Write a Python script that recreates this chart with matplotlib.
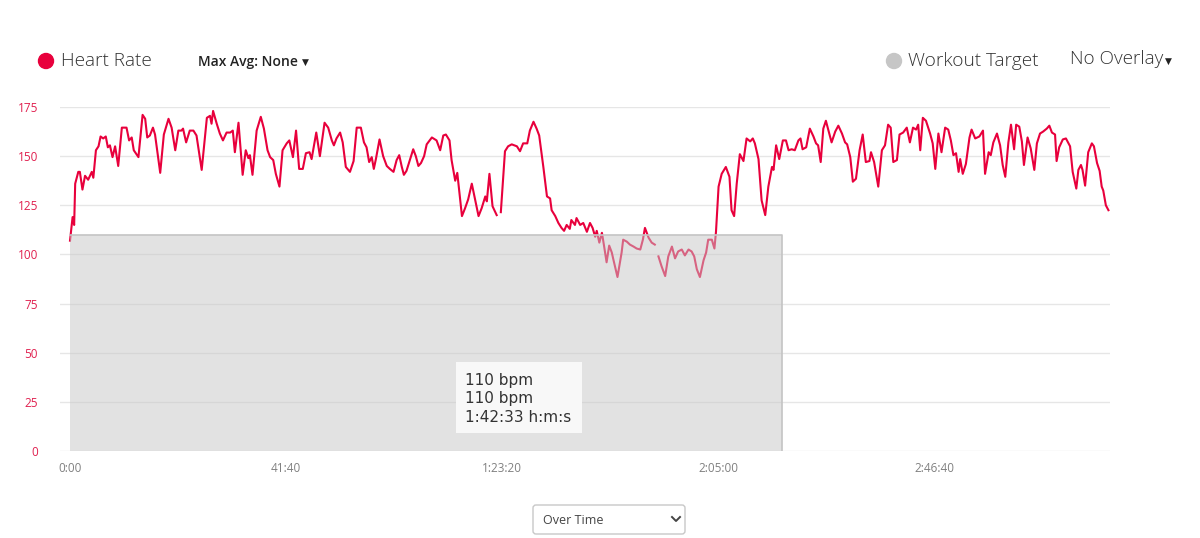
import numpy as np
import matplotlib
matplotlib.use("Agg")
import matplotlib.pyplot as plt
from matplotlib.patches import Rectangle, FancyBboxPatch, Circle
from matplotlib.lines import Line2D

plt.rcParams['font.family'] = ['Open Sans', 'DejaVu Sans']

# heart rate trace, minutes since start / bpm (nan = gap in recording)
minutes = [
    0.0, 0.3, 0.5, 0.8, 1.0, 1.6, 1.9, 2.4, 2.9, 3.5, 4.2, 4.5, 5.0, 5.5, 5.9, 6.4, 6.9, 7.3, 7.7, 8.2,
    8.7, 9.3, 10.0, 10.9, 11.4, 11.9, 12.3, 13.2, 14.0, 14.5, 14.9, 15.4, 16.0, 16.4, 17.4, 18.1, 19.0, 19.6, 20.3, 20.9,
    21.5, 21.8, 22.4, 23.1, 23.8, 24.4, 25.4, 26.4, 27.0, 27.3, 27.6, 28.3, 28.9, 29.5, 30.2, 30.9, 31.4, 31.8, 32.5, 33.3,
    33.9, 34.4, 34.7, 35.2, 36.0, 36.8, 37.4, 38.1, 38.6, 39.2, 39.7, 40.4, 41.0, 41.8, 42.3, 43.0, 43.6, 44.2, 44.9, 45.5,
    46.2, 46.6, 47.5, 48.2, 49.1, 49.8, 50.5, 50.9, 51.4, 52.1, 52.6, 53.2, 54.0, 54.7, 55.3, 56.1, 56.7, 57.2, 57.7, 58.2,
    58.6, 59.0, 59.7, 60.4, 61.1, 61.7, 62.4, 63.0, 63.5, 64.0, 64.4, 64.9, 65.6, 66.2, 66.7, 67.2, 67.7, 68.3, 68.8, 69.8,
    70.7, 71.4, 72.0, 72.5, 73.2, 73.6, 74.3, 74.7, 75.6, 76.2, 76.8, 77.5, 78.1, 78.8, 79.4, 80.1, 80.4, 80.9, 81.5, 82.3,
    82.7, 83.1, 83.9, 84.5, 85.2, 86.2, 86.8, 87.4, 88.2, 88.7, 89.4, 90.0, 90.5, 91.3, 92.0, 92.6, 92.9, 93.6, 94.2, 94.8,
    95.3, 95.8, 96.4, 96.7, 97.4, 97.7, 98.4, 99.0, 99.7, 100.3, 100.8, 101.3, 101.6, 102.1, 102.6, 103.0, 103.5, 104.0, 104.5, 104.8,
    105.6, 106.4, 106.7, 107.4, 108.0, 108.7, 109.3, 110.0, 110.5, 110.9, 111.6, 112.2, 112.8, 113.1, 113.5, 114.1, 114.8, 115.4, 116.1, 116.7,
    117.3, 118.0, 118.6, 119.3, 119.9, 120.4, 120.9, 121.5, 122.2, 122.7, 123.1, 123.8, 124.3, 124.6, 125.1, 125.7, 126.5, 127.2, 127.6, 128.1,
    128.6, 129.2, 129.9, 130.5, 131.2, 131.7, 132.1, 132.8, 133.4, 134.1, 134.7, 135.4, 135.7, 136.2, 136.8, 137.5, 138.1, 138.6, 139.2, 139.8,
    140.5, 140.9, 141.3, 142.0, 142.7, 143.4, 143.9, 144.3, 144.8, 145.3, 145.8, 146.3, 146.9, 147.6, 148.2, 148.9, 149.5, 149.9, 150.5, 151.0,
    151.6, 152.3, 152.9, 153.5, 154.2, 154.5, 155.1, 155.9, 156.6, 157.2, 157.8, 158.3, 158.8, 159.5, 160.0, 160.7, 161.4, 162.0, 162.6, 163.2,
    163.6, 164.0, 164.5, 165.1, 165.9, 166.4, 166.9, 167.5, 168.1, 168.8, 169.4, 169.9, 170.4, 170.9, 171.4, 171.7, 172.2, 172.8, 173.5, 173.9,
    174.6, 175.4, 176.1, 176.5, 177.2, 177.6, 178.1, 178.8, 179.4, 179.9, 180.4, 181.0, 181.5, 182.1, 182.5, 183.1, 183.6, 184.0, 184.7, 185.3,
    186.0, 186.5, 187.1, 187.7, 188.4, 188.9, 189.4, 190.0, 190.3, 190.8, 191.5, 192.1, 192.9, 193.4, 194.1, 194.5, 195.0, 195.3, 195.8, 196.4,
    197.1, 197.5, 198.1, 198.6, 199.0, 199.3, 199.8, 200.3,
]
bpm = [
    107, 114, 119, 115, 136, 142, 142, 133, 140, 138, 142, 139, 153, 155, 160, 159, 160, 154.5, 155.5, 149.5,
    155, 145, 164.5, 164.5, 158, 159.5, 153, 149.5, 171, 169, 159.5, 160.5, 164.5, 161, 141.5, 161, 169, 164.5, 153, 163,
    163, 164, 157, 163, 163, 160.5, 143, 169.5, 170.5, 166.5, 173, 166.5, 161.5, 158, 162, 162, 163, 152, 167, 140.5,
    153, 149, 150.5, 140.5, 163, 170, 164, 153, 149.5, 148, 141, 134.5, 153, 156.5, 158, 149.5, 163, 143.5, 143.5, 151.5,
    152, 148.5, 162, 150, 167, 164.5, 158, 155.5, 159, 162, 157, 144.5, 142, 147.5, 164.5, 164.5, 157, 154.5, 147, 149.5,
    143.5, 148.5, 158.5, 150, 145, 143.5, 142, 148, 150.5, 144.5, 140.5, 142.5, 148.5, 153.5, 150, 145, 146.5, 150, 156, 159.5,
    158, 153, 160.5, 161, 158, 148, 137.5, 141.5, 119.5, 123.5, 128, 136, 128.5, 119.5, 123.5, 129.5, 127, 141, 124.5, 120,
    np.nan, 121.5, 152.5, 155, 156, 155, 152.5, 156.5, 156.5, 163, 167.5, 164, 160.5, 144.5, 129.5, 128.5, 122.5, 119.5, 116, 113.5,
    112, 115, 113, 117.5, 115, 118.5, 115, 116, 111.5, 116, 113.5, 109, 112, 106, 111, 104.5, 96, 104.5, 101, 97.5,
    88.5, 101, 107.5, 106.5, 105, 104, 103, 102.5, 107.5, 113.5, 108.5, 106, 105, np.nan, 99, 94, 89, 99, 104, 98,
    101.5, 102.5, 99.5, 102.5, 101.5, 99, 92.5, 88.5, 97, 101, 107.5, 107.5, 103, 111.5, 134.5, 141, 144.5, 139.5, 122.5, 119.5,
    136, 151, 147.5, 159, 157.5, 159, 156.5, 148.5, 127.5, 120, 134.5, 144.5, 143, 155.5, 148.5, 158, 158, 153, 153.5, 153,
    158, 159, 153.5, 154.5, 164, 160, 156.5, 155.5, 147, 164, 168, 163, 157, 162.5, 165.5, 161.5, 157, 156, 149.5, 137,
    138.5, 153, 161, 147, 147.5, 152, 147, 134.5, 153, 155.5, 166, 164.5, 147, 148, 161, 162, 164.5, 157, 164.5, 163.5,
    166, 153, 169.5, 168, 161.5, 156.5, 143.5, 161.5, 152, 164.5, 163.5, 158, 150.5, 151.5, 142, 148.5, 141, 146, 159.5, 163.5,
    159, 160, 163, 141, 152, 150.5, 157, 161.5, 155.5, 145.5, 139.5, 157, 166, 153.5, 166, 165, 157.5, 145.5, 159.5, 154,
    143, 156.5, 161.5, 162.5, 164, 165.5, 162, 161, 147.5, 154.5, 158.5, 159, 155, 142, 133.5, 143, 145.5, 143, 135, 152,
    156.5, 155, 146.5, 142.5, 134.5, 132.5, 125, 122.5,
]

target_bpm = 110
target_end_min = 137.3
xtick_min = [0, 41.667, 83.333, 125, 166.667]
xtick_labels = ['0:00', '41:40', '1:23:20', '2:05:00', '2:46:40']
ytick_vals = [0, 25, 50, 75, 100, 125, 150, 175]
tooltip_lines = ['110 bpm', '110 bpm', '1:42:33 h:m:s']

RED = '#e8003c'

fig = plt.figure(figsize=(12, 5.38), dpi=100)
ax = fig.add_axes([60 / 1200, (538 - 451) / 538, (1110 - 60) / 1200, (451 - 107) / 538])

ax.plot(minutes, bpm, color=RED, lw=1.5, zorder=2, solid_joinstyle='round')

# workout target band drawn over the trace
ax.add_patch(Rectangle((0, 0), target_end_min, target_bpm, facecolor=(0.78, 0.78, 0.78, 0.5),
                       edgecolor='none', zorder=3))
ax.plot([0, target_end_min, target_end_min], [target_bpm, target_bpm, 0], color='#c4c4c4', lw=1.2, zorder=3)

ax.set_xlim(-1.93, 200.6)
ax.set_ylim(0, 175)
ax.set_yticks(ytick_vals)
ax.set_xticks(xtick_min)
ax.set_xticklabels(xtick_labels)
ax.grid(axis='y', color='#e6e6e6', lw=1, zorder=0)
ax.set_axisbelow(True)
for s in ax.spines.values():
    s.set_visible(False)
ax.tick_params(axis='both', length=0)
ax.tick_params(axis='y', labelcolor='#e0204f', labelsize=8.5, pad=16)
ax.tick_params(axis='x', labelcolor='#808080', labelsize=8.5, pad=8)

# overlay in pixel coordinates for header, tooltip, dropdown
ov = fig.add_axes([0, 0, 1, 1], facecolor='none')
ov.set_xlim(0, 1200)
ov.set_ylim(538, 0)
ov.axis('off')

ov.add_patch(Circle((46, 61), 7.5, color='#e8003c'))
ov.text(61, 61, 'Heart Rate', fontsize=13.7, color='#333333', va='center', fontweight='light')
ov.text(198, 62, 'Max Avg: None', fontsize=10, color='#222222', va='center', fontweight='semibold')
ov.text(302, 62, '\u25BC', fontsize=6.5, color='#222222', va='center', family=['DejaVu Sans'])
ov.add_patch(Circle((894, 61), 7.5, color='#c6c6c6'))
ov.text(908, 61, 'Workout Target', fontsize=13.7, color='#333333', va='center', fontweight='light')
ov.text(1070, 59, 'No Overlay', fontsize=13.6, color='#333333', va='center', fontweight='light')
ov.text(1165, 61, '\u25BC', fontsize=6.5, color='#222222', va='center', family=['DejaVu Sans'])

# tooltip
ov.add_patch(Rectangle((456, 362), 126, 71, facecolor='#f8f8f8', edgecolor='none', zorder=4))
for i, line in enumerate(tooltip_lines):
    ov.text(465, 380 + i * 19, line, fontsize=11, color='#333333', va='center',
            family=['DejaVu Sans'], zorder=5)

# dropdown
ov.add_patch(FancyBboxPatch((533, 505), 152, 29, boxstyle='round,pad=0,rounding_size=3',
                            facecolor='white', edgecolor='#c8c8c8', lw=1))
ov.text(543, 520, 'Over Time', fontsize=9, color='#444444', va='center')
ov.add_line(Line2D([672, 676, 680], [517, 521, 517], color='#444444', lw=1.4))

fig.savefig('out.png', dpi=100)
